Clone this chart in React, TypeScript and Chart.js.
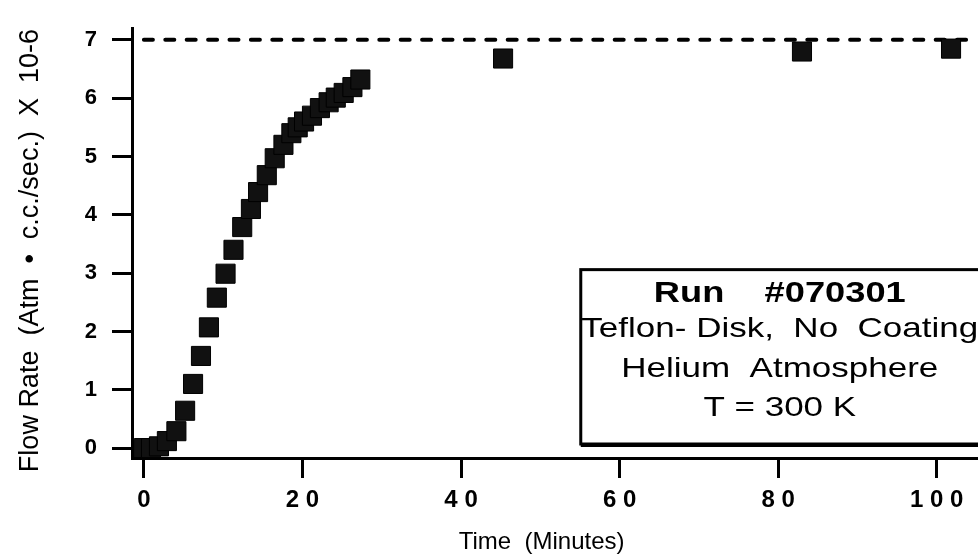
import React, { useEffect, useRef } from "react";
import { Chart, registerables } from "chart.js";

Chart.register(...registerables);

// ---- data ----
const timeMin = [0, 0.9, 1.9, 2.9, 4.1, 5.2, 6.2, 7.2, 8.2, 9.2, 10.3, 11.3, 12.4, 13.5, 14.4, 15.5, 16.5, 17.6, 18.6, 19.4, 20.2, 21.2, 22.2, 23.3, 24.2, 25.2, 26.3, 27.3, 45.3, 83.0, 101.8];
const flowRate = [0, 0, 0.03, 0.12, 0.29, 0.64, 1.1, 1.58, 2.07, 2.58, 2.99, 3.4, 3.79, 4.1, 4.39, 4.68, 4.97, 5.2, 5.4, 5.5, 5.6, 5.7, 5.83, 5.93, 6.01, 6.09, 6.19, 6.32, 6.68, 6.8, 6.85];
const limitX = [0, 105.2];
const limitY = [7, 7];
const xTicks = [0, 20, 40, 60, 80, 100];
const yTicks = [0, 1, 2, 3, 4, 5, 6, 7];
const boxLines = ["Run    #070301", "Teflon- Disk,  No  Coating", "Helium  Atmosphere", "T = 300 K"];
const xTitle = "Time  (Minutes)";
const yTitle = "Flow Rate  (Atm  \u2022  c.c./sec.)  X  10-6";

const FONT = "'Liberation Sans', Arial, Helvetica, sans-serif";
const TEXT_STRETCH = 1.25;

const infoBoxPlugin = {
  id: "infoBox",
  afterDraw(chart: any) {
    const { ctx } = chart;
    const xs = chart.scales.x;
    const ys = chart.scales.y;
    const left = xs.getPixelForValue(55.1);
    const right = xs.getPixelForValue(108);
    const top = ys.getPixelForValue(3.06);
    const bottom = ys.getPixelForValue(0.07);
    ctx.save();
    ctx.fillStyle = "#fff";
    ctx.fillRect(left, top, right - left, bottom - top);
    ctx.strokeStyle = "#000";
    ctx.lineWidth = 3;
    ctx.strokeRect(left, top, right - left, bottom - top);
    ctx.fillStyle = "#000";
    ctx.fillRect(left, bottom, right - left, 3);
    const cx = xs.getPixelForValue(80.2);
    const lineY = [ys.getPixelForValue(2.64), ys.getPixelForValue(2.04), ys.getPixelForValue(1.35), ys.getPixelForValue(0.69)];
    ctx.textAlign = "center";
    ctx.textBaseline = "middle";
    ctx.scale(TEXT_STRETCH, 1);
    boxLines.forEach((t, i) => {
      ctx.font = i === 0 ? `bold 29px ${FONT}` : `28px ${FONT}`;
      ctx.fillText(t, cx / TEXT_STRETCH, lineY[i]);
    });
    ctx.restore();
  },
};

export default function App() {
  const ref = useRef<HTMLCanvasElement>(null);
  useEffect(() => {
    if (!ref.current) return;
    const chart = new Chart(ref.current, {
      type: "scatter",
      data: {
        datasets: [
          {
            label: "Flow rate",
            data: timeMin.map((t, i) => ({ x: t, y: flowRate[i] })),
            pointStyle: "rect",
            pointRadius: 13.5,
            backgroundColor: "#111",
            borderColor: "#000",
            borderWidth: 1,
            showLine: false,
          },
          {
            label: "Limit",
            data: limitX.map((t, i) => ({ x: t, y: limitY[i] })),
            showLine: true,
            borderColor: "#000",
            borderWidth: 4,
            borderDash: [9, 12.4],
            borderCapStyle: "round",
            pointRadius: 0,
          },
        ],
      },
      options: {
        animation: false,
        responsive: false,
        events: [],
        layout: { padding: { top: 28, left: 0, right: 0, bottom: 0 }, autoPadding: false },
        plugins: { legend: { display: false }, tooltip: { enabled: false } },
        scales: {
          x: {
            type: "linear",
            min: -1.5,
            max: 105.2,
            afterFit: (s: any) => { s.height = 99; },
            afterBuildTicks: (s: any) => { s.ticks = xTicks.map((v) => ({ value: v })); },
            border: { display: true, color: "#000", width: 3 },
            grid: { drawOnChartArea: false, drawTicks: true, tickLength: 20, tickWidth: 3, tickColor: "#000" },
            ticks: {
              color: "#000",
              padding: 8,
              font: { family: FONT, size: 24, weight: "bold" },
              callback: (v: any) => String(v).split("").join(" "),
            },
            title: {
              display: true,
              text: xTitle + "    ",
              color: "#000",
              font: { family: FONT, size: 24 },
              padding: { top: 5, bottom: 0 },
            },
          },
          y: {
            type: "linear",
            min: -0.17,
            max: 7.2,
            afterFit: (s: any) => { s.width = 132; },
            afterBuildTicks: (s: any) => { s.ticks = yTicks.map((v) => ({ value: v })); },
            border: { display: true, color: "#000", width: 3 },
            grid: { drawOnChartArea: false, drawTicks: true, tickLength: 20, tickWidth: 3, tickColor: "#000" },
            ticks: {
              color: "#000",
              padding: 15,
              font: { family: FONT, size: 22, weight: "bold" },
            },
            title: {
              display: true,
              text: yTitle + "  ",
              color: "#000",
              font: { family: FONT, size: 27 },
              padding: { top: 14, bottom: 0 },
            },
          },
        },
      },
      plugins: [infoBoxPlugin],
    } as any);
    return () => chart.destroy();
  }, []);
  return (
    <div style={{ position: "fixed", left: 0, top: 0, width: 978, height: 557, background: "#fff" }}>
      <canvas ref={ref} width={978} height={557} />
    </div>
  );
}
